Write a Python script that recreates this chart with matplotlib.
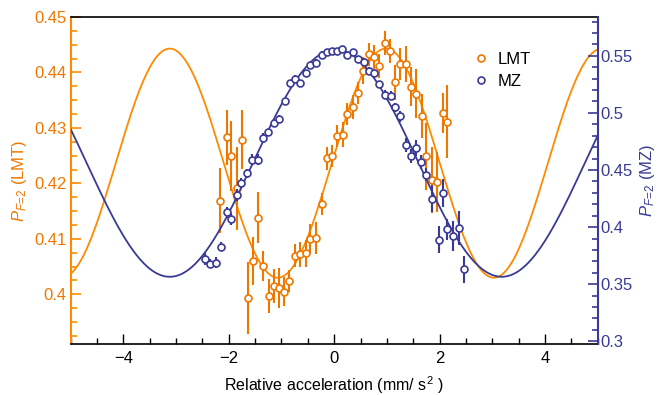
import numpy as np
import matplotlib
matplotlib.use("Agg")
import matplotlib.pyplot as plt
from matplotlib.lines import Line2D
from matplotlib.ticker import MultipleLocator, FuncFormatter

plt.rcParams['font.family'] = ['Liberation Sans', 'DejaVu Sans']
plt.rcParams['mathtext.fontset'] = 'custom'
plt.rcParams['mathtext.rm'] = 'Liberation Sans'
plt.rcParams['mathtext.it'] = 'Liberation Sans:italic'

# ---------------- data ----------------
lmt_x = [-2.16, -2.03, -1.95, -1.84, -1.75, -1.63, -1.54, -1.44, -1.35, -1.24,
         -1.15, -1.05, -0.95, -0.855, -0.75, -0.65, -0.54, -0.45, -0.35, -0.24,
         -0.14, -0.04, 0.057, 0.16, 0.25, 0.35, 0.46, 0.55, 0.66, 0.76,
         0.855, 0.96, 1.06, 1.15, 1.25, 1.36, 1.46, 1.55, 1.66, 1.75,
         1.86, 1.96, 2.07, 2.15]
lmt_y = [0.4169, 0.4283, 0.4249, 0.4191, 0.4279, 0.3994, 0.4060, 0.4138, 0.4051, 0.3997,
         0.4015, 0.4012, 0.4005, 0.4024, 0.4070, 0.4072, 0.4074, 0.4100, 0.4101, 0.4163,
         0.4245, 0.4249, 0.4285, 0.4288, 0.4325, 0.4338, 0.4363, 0.4403, 0.4433, 0.4428,
         0.4412, 0.4453, 0.4439, 0.4382, 0.4415, 0.4415, 0.4374, 0.4362, 0.4321, 0.4249,
         0.4206, 0.4203, 0.4327, 0.4311]
lmt_err = [0.0059, 0.0050, 0.0063, 0.0075, 0.0053, 0.0065, 0.0044, 0.0046, 0.0027, 0.0030,
           0.0031, 0.0036, 0.0026, 0.0020, 0.0020, 0.0022, 0.0024, 0.0027, 0.0029, 0.0020,
           0.0021, 0.0020, 0.0020, 0.0022, 0.0020, 0.0022, 0.0020, 0.0024, 0.0021, 0.0021,
           0.0022, 0.0021, 0.0022, 0.0032, 0.0029, 0.0033, 0.0035, 0.0044, 0.0040, 0.0060,
           0.0060, 0.0054, 0.0036, 0.0066]

mz_x = [-2.45, -2.35, -2.25, -2.14, -2.04, -1.96, -1.85, -1.76, -1.65, -1.55,
        -1.44, -1.35, -1.25, -1.15, -1.04, -0.94, -0.84, -0.75, -0.65, -0.54,
        -0.45, -0.35, -0.24, -0.14, -0.05, 0.05, 0.15, 0.25, 0.35, 0.46,
        0.56, 0.66, 0.76, 0.86, 0.96, 1.07, 1.15, 1.25, 1.36, 1.46,
        1.55, 1.65, 1.75, 1.86, 1.98, 2.06, 2.15, 2.26, 2.36, 2.46]
mz_y = [0.372, 0.368, 0.369, 0.383, 0.413, 0.407, 0.428, 0.439, 0.447, 0.459,
        0.459, 0.478, 0.483, 0.491, 0.495, 0.510, 0.526, 0.530, 0.526, 0.535,
        0.542, 0.544, 0.551, 0.553, 0.554, 0.554, 0.556, 0.551, 0.553, 0.547,
        0.545, 0.537, 0.535, 0.525, 0.516, 0.515, 0.505, 0.497, 0.472, 0.462,
        0.469, 0.457, 0.446, 0.425, 0.389, 0.430, 0.398, 0.392, 0.399, 0.363]
mz_err = [0.005, 0.004, 0.005, 0.004, 0.005, 0.005, 0.005, 0.004, 0.004, 0.005,
          0.005, 0.004, 0.003, 0.003, 0.003, 0.003, 0.003, 0.003, 0.003, 0.003,
          0.003, 0.003, 0.003, 0.003, 0.003, 0.003, 0.003, 0.003, 0.003, 0.003,
          0.003, 0.003, 0.003, 0.003, 0.004, 0.004, 0.004, 0.005, 0.006, 0.006,
          0.007, 0.006, 0.006, 0.012, 0.012, 0.012, 0.0095, 0.013, 0.015, 0.012]

# fitted sinusoid parameters (offset, amplitude, period, centre)
lmt_fit = dict(c=0.42365, a=0.02065, T=4.1, x0=0.98)
mz_fit = dict(c=0.456, a=0.0995, T=6.3, x0=0.03)

ORANGE = '#FF8A00'
ORANGE_D = '#EE7700'
BLUE = '#3A3A96'

fig = plt.figure(figsize=(6.58, 3.95), dpi=100)
ax = fig.add_axes([0.1074, 0.1284, 0.8009, 0.8286])
ax2 = ax.twinx()

xs = np.linspace(-5, 5, 800)

def fit(p, x):
    return p['c'] + p['a'] * np.cos(2 * np.pi * (x - p['x0']) / p['T'])

ax.plot(xs, fit(lmt_fit, xs), color=ORANGE, lw=1.3, zorder=2)
ax.errorbar(lmt_x, lmt_y, yerr=lmt_err, fmt='o', ms=5, mfc='white', mec=ORANGE_D,
            mew=1.2, ecolor=ORANGE_D, elinewidth=1.5, capsize=0, zorder=3)

ax2.plot(xs, fit(mz_fit, xs), color=BLUE, lw=1.3, zorder=2)
ax2.errorbar(mz_x, mz_y, yerr=mz_err, fmt='o', ms=5, mfc='white', mec=BLUE,
             mew=1.2, ecolor=BLUE, elinewidth=1.5, capsize=0, zorder=3)

ax.set_xlim(-5, 5)
ax.set_ylim(0.391, 0.45)
ax2.set_ylim(0.2974, 0.584)

fmt = FuncFormatter(lambda v, p: ('%g' % round(v, 4)))

ax.xaxis.set_major_locator(MultipleLocator(2))
ax.xaxis.set_minor_locator(MultipleLocator(0.5))
ax.yaxis.set_major_locator(MultipleLocator(0.01))
ax.yaxis.set_minor_locator(MultipleLocator(0.0025))
ax.yaxis.set_major_formatter(fmt)
ax2.yaxis.set_major_locator(MultipleLocator(0.05))
ax2.yaxis.set_minor_locator(MultipleLocator(0.01))
ax2.yaxis.set_major_formatter(fmt)

ax.tick_params(axis='x', which='both', direction='in', top=False, colors='black',
               labelsize=12, pad=5)
ax.tick_params(axis='x', which='major', length=7, width=1)
ax.tick_params(axis='x', which='minor', length=4, width=1)
ax.tick_params(axis='y', which='both', direction='in', colors=ORANGE, labelcolor=ORANGE_D,
               labelsize=12, pad=3)
ax.tick_params(axis='y', which='major', length=7, width=1.2)
ax.tick_params(axis='y', which='minor', length=4, width=1.2)
ax2.tick_params(axis='y', which='both', direction='in', colors=BLUE, labelsize=12, pad=2)
ax2.tick_params(axis='y', which='major', length=7, width=1.2)
ax2.tick_params(axis='y', which='minor', length=4, width=1.2)

for s in ['top', 'bottom']:
    ax.spines[s].set_color('black')
    ax.spines[s].set_linewidth(1.2)
ax.spines['left'].set_color(ORANGE)
ax.spines['left'].set_linewidth(1.5)
ax.spines['right'].set_visible(False)
for s in ['top', 'bottom', 'left']:
    ax2.spines[s].set_visible(False)
ax2.spines['right'].set_color(BLUE)
ax2.spines['right'].set_linewidth(1.5)

ax.set_xlabel('Relative acceleration (mm/ s$^{2}$ )', fontsize=11.5, labelpad=6)
ax.set_ylabel(r'$P_{F\!=\!2}$ (LMT)', color=ORANGE_D, fontsize=12, labelpad=4)
ax2.set_ylabel(r'$P_{F\!=\!2}$ (MZ)', color=BLUE, fontsize=12, rotation=90, labelpad=4)

handles = [Line2D([], [], marker='o', ls='none', ms=5, mfc='white', mec=ORANGE_D, mew=1.2, label='LMT'),
           Line2D([], [], marker='o', ls='none', ms=5, mfc='white', mec=BLUE, mew=1.2, label='MZ')]
ax2.legend(handles=handles, loc='center left', bbox_to_anchor=((474 - 70.7) / 527, 0.8366),
           frameon=False, fontsize=12, handlelength=0.8, handletextpad=0.6,
           borderpad=0, borderaxespad=0, labelspacing=0.45)

fig.savefig('out.png', dpi=100)
